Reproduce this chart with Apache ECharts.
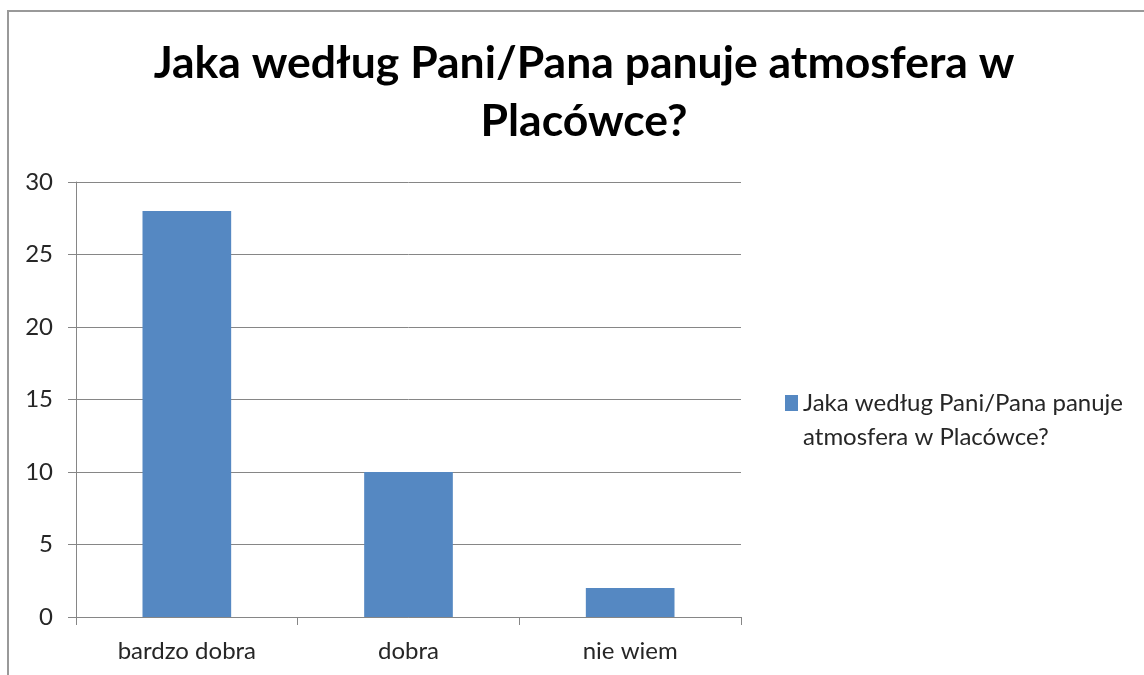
<!DOCTYPE html>
<html>
<head>
<meta charset="utf-8">
<script src="https://cdn.jsdelivr.net/npm/echarts@6/dist/echarts.min.js"></script>
<style>
  html, body { margin: 0; padding: 0; background: #fff; }
  #chart { width: 1144px; height: 675px; }
</style>
</head>
<body>
<div id="chart"></div>
<script>
const categories = ['bardzo dobra', 'dobra', 'nie wiem']
const values = [28, 10, 2]
const seriesName = 'Jaka według Pani/Pana panuje atmosfera w Placówce?'
const titleText = 'Jaka według Pani/Pana panuje atmosfera w\nPlacówce?'
const yTicks = { min: 0, max: 30, interval: 5 }

const fontFamily = 'Lato, "Open Sans", sans-serif'
const axisGray = '#868686'

const chart = echarts.init(document.getElementById('chart'), null, { renderer: 'canvas' })

const option = {
  animation: false,
  backgroundColor: '#fff',
  title: {
    text: titleText,
    left: 579,
    top: 30,
    textAlign: 'center',
    textStyle: {
      fontFamily: fontFamily,
      fontWeight: 'bold',
      fontSize: 44.5,
      lineHeight: 58,
      color: '#000',
    },
  },
  legend: {
    orient: 'vertical',
    left: 785,
    top: 352,
    padding: 0,
    itemWidth: 13,
    itemHeight: 16,
    itemGap: 0,
    icon: 'rect',
    data: [seriesName],
    // 前面加空行，让色块对齐第一行文字
    formatter: () => '\nJaka według Pani/Pana panuje\natmosfera w Placówce?',
    textStyle: {
      fontFamily: fontFamily,
      fontSize: 24,
      lineHeight: 34,
      color: '#262626',
    },
  },
  graphic: [
    {
      type: 'rect',
      silent: true,
      shape: { x: 8, y: 11, width: 1200, height: 700 },
      style: { fill: 'none', stroke: '#999', lineWidth: 2 },
    },
  ],
  grid: {
    left: 76,
    right: 403,
    top: 182,
    bottom: 58,
  },
  xAxis: {
    type: 'category',
    data: categories,
    axisLine: { show: true, lineStyle: { color: axisGray, width: 1 } },
    axisTick: { show: true, length: 8, lineStyle: { color: axisGray } },
    axisLabel: {
      margin: 22,
      fontFamily: fontFamily,
      fontSize: 24,
      color: '#262626',
    },
  },
  yAxis: {
    type: 'value',
    min: yTicks.min,
    max: yTicks.max,
    interval: yTicks.interval,
    axisLine: { show: true, lineStyle: { color: axisGray, width: 1 } },
    axisTick: { show: true, length: 8, lineStyle: { color: axisGray } },
    splitLine: { show: true, lineStyle: { color: axisGray, width: 1 } },
    axisLabel: {
      margin: 23,
      fontFamily: fontFamily,
      fontSize: 24,
      color: '#262626',
    },
  },
  series: [
    {
      name: seriesName,
      type: 'bar',
      data: values,
      barWidth: '40%',
      itemStyle: { color: '#5588C2' },
    },
  ],
}

chart.setOption(option)
</script>
</body>
</html>
